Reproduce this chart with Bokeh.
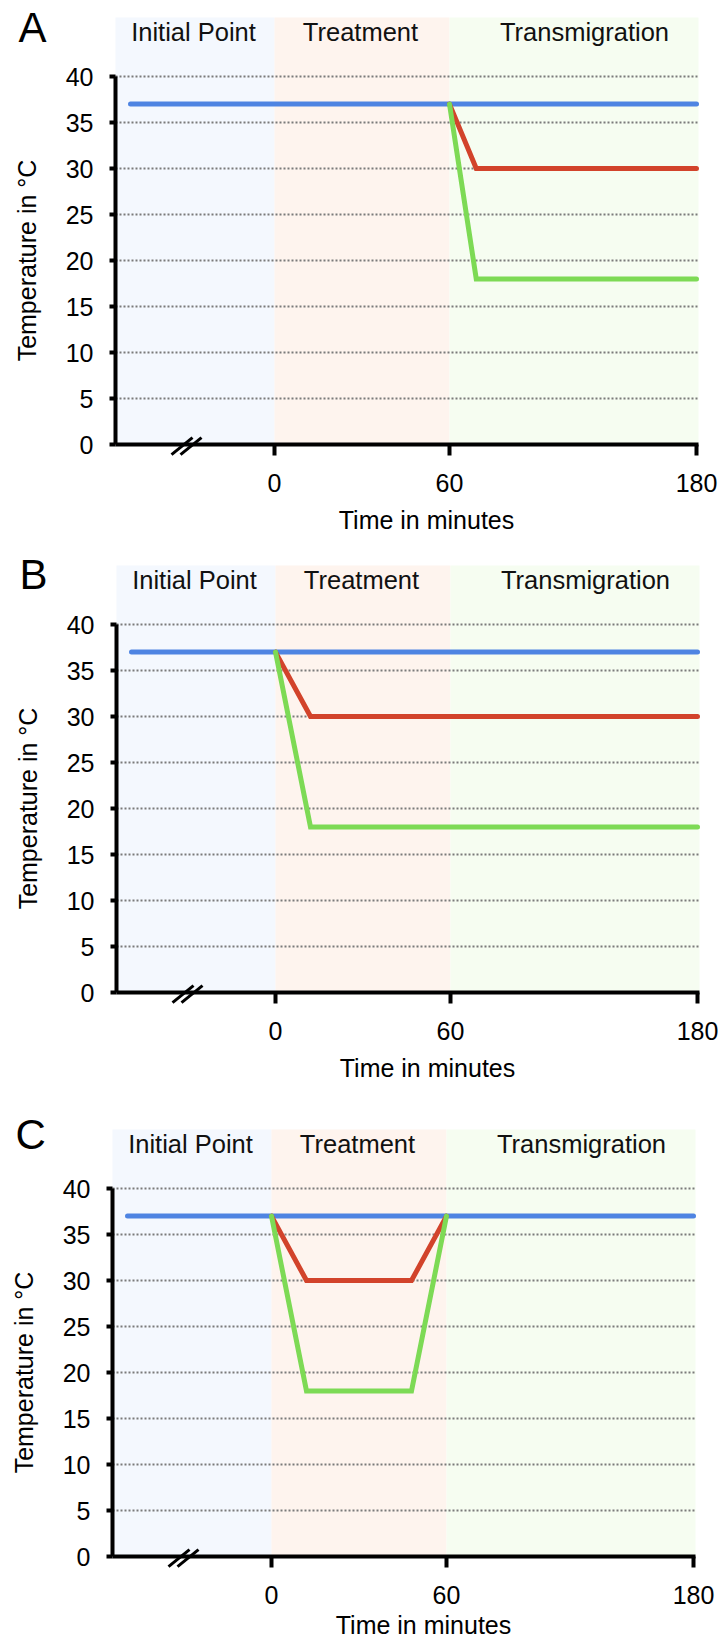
import math
import numpy as np
from bokeh.plotting import figure
from bokeh.layouts import column
from bokeh.models import FixedTicker, Label, Arrow, Range1d
from bokeh.core.properties import value
from bokeh.embed import file_html
from bokeh.resources import INLINE

FONT = "Liberation Sans"

# ---------------- data ----------------
phases = ["Initial Point", "Treatment", "Transmigration"]
phase_start = [None, 0, 60]      # None = initial point, before the axis break
phase_end = [0, 60, 180]
phase_colors = ["#F4F8FE", "#FEF4EE", "#F6FDF1"]
time_ticks = [0, 60, 180]
temp_ticks = [0, 5, 10, 15, 20, 25, 30, 35, 40]
panel_letters = ["A", "B", "C"]

INITIAL = None  # the initial point (before time zero, left of the axis break)

a_blue_t = [INITIAL, 180]
a_blue_temp = [37, 37]
a_red_t = [60, 73, 180]
a_red_temp = [37, 30, 30]
a_green_t = [60, 73, 180]
a_green_temp = [37, 18, 18]

b_blue_t = [INITIAL, 180]
b_blue_temp = [37, 37]
b_red_t = [0, 12, 180]
b_red_temp = [37, 30, 30]
b_green_t = [0, 12, 180]
b_green_temp = [37, 18, 18]

c_blue_t = [INITIAL, 180]
c_blue_temp = [37, 37]
c_red_t = [0, 12, 48, 60]
c_red_temp = [37, 30, 30, 37]
c_green_t = [0, 12, 48, 60]
c_green_temp = [37, 18, 18, 37]

BLUE, RED, GREEN = "#4E84E2", "#D2432B", "#7DDA55"

# ---------------- broken time axis layout ----------------
KNOT_T = [0, 60, 180]
KNOT_X = [0, 175, 422]
X_AXIS, X_RIGHT = -159, 424   # y-axis position / right end of plot area
X_INITIAL = -144
PX = 9.2                      # px per degree
ZERO_Y = 444                  # px from figure top to temperature 0
BAND_TOP = (ZERO_Y - 17) / PX # header band top
FIG_W = 718


def xpos(t):
    if t is None:
        return float(X_INITIAL)
    return float(np.interp(t, KNOT_T, KNOT_X))


def make_panel(letter, blue, red, green, height, zero_px, title_px, letter_px):
    x0 = -zero_px
    p = figure(width=FIG_W, height=height,
               x_range=Range1d(x0, x0 + FIG_W),
               y_range=Range1d(-(height - ZERO_Y) / PX, ZERO_Y / PX),
               output_backend="svg", toolbar_location=None, min_border=0)
    p.outline_line_color = None
    p.background_fill_color = "white"
    p.border_fill_color = "white"
    p.xgrid.visible = False
    p.ygrid.visible = False

    # phase bands
    lefts = [X_AXIS if s is None else xpos(s) for s in phase_start]
    rights = [X_RIGHT if e == 180 else xpos(e) for e in phase_end]
    p.quad(left=lefts, right=rights, bottom=0, top=BAND_TOP,
           fill_color=phase_colors, line_color=None, level="image")
    header_x = [-81, 86, 310]
    p.text(x=header_x, y=[413 / PX] * 3, text=phases,
           text_font=value(FONT), text_font_size="25.5px", text_color="#111111",
           text_align="center", text_baseline="middle")

    # dotted grid
    g = temp_ticks[1:]
    p.segment(x0=[X_AXIS] * len(g), x1=[X_RIGHT] * len(g), y0=g, y1=g,
              line_color="#7a7a7a", line_width=2, line_dash="2 2")

    # series
    for (ts, temps), col in ((blue, BLUE), (red, RED), (green, GREEN)):
        p.line(x=[xpos(t) for t in ts], y=temps, line_color=col, line_width=5,
               line_cap="round", line_join="miter")

    # axes (fixed inside the canvas-wide frame)
    ya = p.yaxis[0]
    ya.fixed_location = X_AXIS
    ya.ticker = FixedTicker(ticks=temp_ticks)
    ya.bounds = (0, 40)
    xa = p.xaxis[0]
    xa.fixed_location = 0
    xa.ticker = FixedTicker(ticks=[xpos(t) for t in time_ticks])
    xa.major_label_overrides = {xpos(t): str(t) for t in time_ticks}
    xa.bounds = (X_AXIS, X_RIGHT)
    for ax in (xa, ya):
        ax.axis_line_width = 4
        ax.axis_line_color = "black"
        ax.major_tick_line_width = 4
        ax.major_tick_line_color = "black"
        ax.major_tick_in = 0
        ax.minor_tick_line_color = None
        ax.major_label_text_font = FONT
        ax.major_label_text_font_size = "25px"
        ax.major_label_text_color = "black"
    ya.major_tick_out = 6
    ya.major_label_standoff = 16
    xa.major_tick_out = 11
    xa.major_label_standoff = 18

    # axis break marks
    for bx in (-103, -94):
        p.add_layout(Arrow(end=None, x_start=bx, y_start=-1.1, x_end=bx + 21, y_end=0.75,
                           line_color="black", line_width=3))

    # titles and letter
    p.add_layout(Label(x=-248, y=20, text="Temperature in °C", angle=math.pi / 2,
                       text_font=FONT, text_font_size="25px", text_color="black",
                       text_align="center", text_baseline="middle"))
    p.add_layout(Label(x=152, y=-title_px / PX, text="Time in minutes",
                       text_font=FONT, text_font_size="25px", text_color="black",
                       text_align="center", text_baseline="middle"))
    p.add_layout(Label(x=-256, y=(ZERO_Y - letter_px) / PX, text=letter,
                       text_font=FONT, text_font_size="42px", text_color="black",
                       text_align="left", text_baseline="middle"))
    return p


pA = make_panel(panel_letters[0], (a_blue_t, a_blue_temp), (a_red_t, a_red_temp),
                (a_green_t, a_green_temp), 548, 274, 75, 27)
pB = make_panel(panel_letters[1], (b_blue_t, b_blue_temp), (b_red_t, b_red_temp),
                (b_green_t, b_green_temp), 564, 275, 75, 26)
pC = make_panel(panel_letters[2], (c_blue_t, c_blue_temp), (c_red_t, c_red_temp),
                (c_green_t, c_green_temp), 532, 271, 68, 22)

layout = column(pA, pB, pC, spacing=0)
open("out.html", "w").write(file_html(layout, INLINE))
